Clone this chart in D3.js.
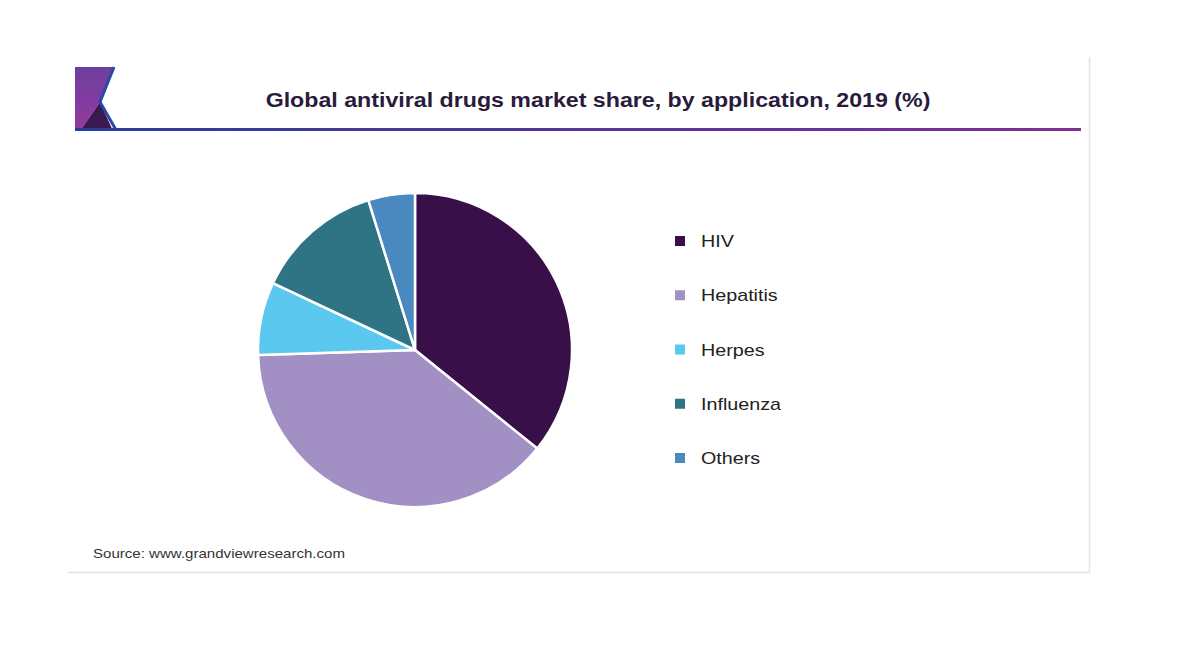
<!DOCTYPE html>
<html><head><meta charset="utf-8">
<script src="https://cdn.jsdelivr.net/npm/d3@7"></script>
<style>html,body{margin:0;padding:0;background:#fff;}svg{display:block;font-family:"Liberation Sans",Arial,sans-serif;}</style>
</head><body>
<svg id="c" width="1200" height="650"></svg>
<script>
const categories = ["HIV", "Hepatitis", "Herpes", "Influenza", "Others"];
const shares = [35.8, 38.7, 7.5, 13.2, 4.8];
const colors = ["#380f48", "#a28fc4", "#5bc8f0", "#2e7484", "#4a88c0"];
const titleText = "Global antiviral drugs market share, by application, 2019 (%)";
const sourceText = "Source: www.grandviewresearch.com";

const sx = 1.16; // horizontal text stretch seen in the reference
const svg = d3.select("#c");
const defs = svg.append("defs");
const g1 = defs.append("linearGradient").attr("id","rule").attr("x1","0").attr("x2","1");
g1.append("stop").attr("offset","0").attr("stop-color","#2b3d9c");
g1.append("stop").attr("offset","1").attr("stop-color","#7e2f92");
const g2 = defs.append("linearGradient").attr("id","logo").attr("x1","0").attr("y1","0").attr("x2","0").attr("y2","1");
g2.append("stop").attr("offset","0").attr("stop-color","#6e3f9e");
g2.append("stop").attr("offset","1").attr("stop-color","#93399f");

// frame
svg.append("path").attr("d","M1089.5,57 V572.5 H68").attr("fill","none").attr("stroke","#e4e4e4").attr("stroke-width",1.5);

// logo
svg.append("polygon").attr("points","75,67 113,67 100,102 80,131 75,131").attr("fill","url(#logo)");
svg.append("polygon").attr("points","80,131 100,102 113,131").attr("fill","#3a1850");
svg.append("polyline").attr("points","114,67 100,102 116,130").attr("fill","none").attr("stroke","#2c47a6").attr("stroke-width",3);

// rule
svg.append("rect").attr("x",75).attr("y",128).attr("width",1006).attr("height",3).attr("fill","url(#rule)");

// title
svg.append("text").attr("transform",`translate(598,107) scale(${sx},1)`).attr("text-anchor","middle")
  .attr("font-size",20).attr("font-weight","bold").attr("fill","#2a1b3c").text(titleText);

// pie
const cx = 415, cy = 350, r = 157;
const pie = d3.pie().sort(null).value(d => d)(shares);
const arc = d3.arc().innerRadius(0).outerRadius(r);
svg.append("g").attr("transform",`translate(${cx},${cy})`)
  .selectAll("path").data(pie).join("path")
  .attr("d", arc).attr("fill", (d,i) => colors[i])
  .attr("stroke","#fff").attr("stroke-width",2.5).attr("stroke-linejoin","round");

// legend
const ly = d3.scalePoint().domain(categories).range([241, 458]);
const leg = svg.append("g").selectAll("g").data(categories).join("g")
  .attr("transform", d => `translate(0,${ly(d)})`);
leg.append("rect").attr("x",675).attr("y",-5).attr("width",10).attr("height",10)
  .attr("fill",(d,i)=>colors[i]);
leg.append("text").attr("transform",`translate(701,6) scale(${sx},1)`).attr("font-size",17).attr("fill","#222").text(d=>d);

// source
svg.append("text").attr("transform",`translate(93,558) scale(${sx},1)`).attr("font-size",13).attr("fill","#333").text(sourceText);
</script>
</body></html>
